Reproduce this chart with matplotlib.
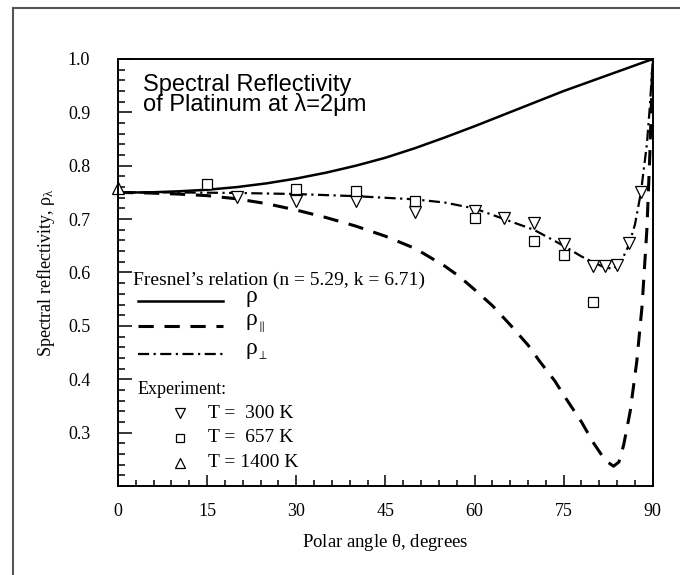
"""
Spectral reflectivity of platinum at 2 um: Fresnel curves and experiment
"""

import matplotlib

matplotlib.use("Agg")
import matplotlib.pyplot as plt  # noqa:E402
from matplotlib.lines import Line2D  # noqa:E402

# Fresnel's relation curves
theta_rho = [0, 5, 10, 15, 20, 25, 30, 35, 40, 45, 50, 55, 60, 65, 70, 75, 80, 85, 88, 90]
rho = [0.750, 0.750, 0.752, 0.755, 0.760, 0.767, 0.776, 0.787, 0.800, 0.815,
       0.833, 0.853, 0.874, 0.896, 0.918, 0.940, 0.960, 0.980, 0.992, 1.000]

theta_par = [0, 5, 10, 15, 20, 25, 30, 35, 40, 45, 50, 55, 57.5, 60, 63, 66, 69, 71,
             73.5, 75.5, 78, 80, 82, 83.4, 84.3, 85.1, 86.2, 87.3, 88.2, 89, 89.5, 90]
rho_par = [0.750, 0.749, 0.747, 0.744, 0.738, 0.729, 0.717, 0.703, 0.687, 0.668,
           0.645, 0.612, 0.592, 0.568, 0.538, 0.502, 0.464, 0.433, 0.397, 0.362,
           0.320, 0.281, 0.248, 0.237, 0.245, 0.277, 0.340, 0.433, 0.538, 0.680,
           0.820, 1.000]

theta_perp = [0, 10, 20, 30, 40, 45, 50, 55, 60, 65, 70, 75, 78, 80, 82, 83.5,
              85, 86, 87, 88, 89, 89.5, 90]
rho_perp = [0.750, 0.750, 0.749, 0.747, 0.743, 0.740, 0.737, 0.731, 0.720, 0.700,
            0.680, 0.650, 0.630, 0.619, 0.609, 0.607, 0.628, 0.652, 0.690, 0.750,
            0.840, 0.910, 1.000]

# experiment
theta_300 = [20, 30, 40, 50, 60, 65, 70, 75, 80, 82, 84, 86, 88]
rho_300 = [0.741, 0.734, 0.734, 0.713, 0.715, 0.703, 0.693, 0.653, 0.613, 0.613,
           0.614, 0.655, 0.750]
theta_657 = [15, 30, 40, 50, 60, 70, 75, 80]
rho_657 = [0.765, 0.757, 0.752, 0.734, 0.703, 0.659, 0.632, 0.545]
theta_1400 = [0]
rho_1400 = [0.759]

SERIF = "Liberation Serif"
SANS = "Liberation Sans"
FS = 13


def main():
    plt.rcParams["font.family"] = [SERIF, "DejaVu Serif"]
    plt.rcParams["mathtext.fontset"] = "custom"
    plt.rcParams["mathtext.rm"] = SERIF
    plt.rcParams["mathtext.it"] = SERIF  # upright greek like the original

    fig = plt.figure(figsize=(6.8, 5.75), dpi=100)
    ax = fig.add_axes([0.1735, 0.1548, 0.7865, 0.7426])

    ax.plot(theta_rho, rho, color="black", lw=1.8, solid_capstyle="butt")
    ax.plot(theta_par, rho_par, color="black", lw=2.2, dashes=(5, 3.5))
    ax.plot(theta_perp, rho_perp, color="black", lw=1.6, dashes=(5, 2, 1, 2))

    mk = dict(ls="none", mfc="white", mec="black", mew=0.9)
    ax.plot(theta_300, rho_300, marker="v", ms=8.5, **mk)
    ax.plot(theta_657, rho_657, marker="s", ms=7, **mk)
    ax.plot(theta_1400, rho_1400, marker="^", ms=8.5, clip_on=False, **mk)

    ax.set_xlim(0, 90)
    ax.set_ylim(0.2, 1.0)
    ax.set_xticks(range(0, 91, 15))
    ax.set_xticks(range(0, 91, 3), minor=True)
    ax.set_yticks([0.3, 0.4, 0.5, 0.6, 0.7, 0.8, 0.9, 1.0])
    ax.set_yticks([0.2 + 0.02 * i for i in range(41)], minor=True)
    ax.set_yticklabels(["0.3", "0.4", "0.5", "0.6", "0.7", "0.8", "0.9", "1.0"])
    ax.tick_params(which="both", direction="in", labelsize=FS, width=1.1)
    ax.tick_params(axis="y", which="major", length=10, pad=20)
    ax.tick_params(axis="y", which="minor", length=5)
    ax.tick_params(axis="x", which="major", length=8, pad=12)
    ax.tick_params(axis="x", which="minor", length=4)
    for s in ax.spines.values():
        s.set_linewidth(1.4)

    ax.set_xlabel(r"Polar angle $\theta$, degrees", fontsize=13.5, labelpad=9)
    ax.set_ylabel(r"Spectral reflectivity, $\rho_\lambda$", fontsize=13, labelpad=8)

    # title inside the axes
    ax.text(0.046, 0.915, "Spectral Reflectivity\nof Platinum at \u03bb=2\u03bcm",
            transform=ax.transAxes, family=SANS, fontsize=17, linespacing=0.82,
            va="center", ha="left")

    # hand-made legend
    tr = ax.transAxes
    ax.text(0.028, 0.482, "Fresnel\u2019s relation (n = 5.29, k = 6.71)",
            transform=tr, fontsize=14, va="center")
    leg_y = [0.433, 0.375, 0.31]
    styles = [dict(lw=1.8), dict(lw=2.2, dashes=(5, 3.5)), dict(lw=1.6, dashes=(5, 2, 1, 2))]
    labels = [r"$\rho$", r"$\rho_{_{\parallel}}$", r"$\rho_{_{\perp}}$"]
    for y, st, lab in zip(leg_y, styles, labels):
        ax.plot([0.037, 0.196], [y, y], transform=tr, color="black", **st)
        ax.text(0.238, y + 0.005, lab, transform=tr, fontsize=17, va="center")

    ax.text(0.037, 0.226, "Experiment:", transform=tr, fontsize=13, va="center")
    exp_y = [0.17, 0.113, 0.055]
    exp_m = [("v", 8), ("s", 7), ("^", 8)]
    exp_lab = ["T =  300 K", "T =  657 K", "T = 1400 K"]
    for y, (m, ms), lab in zip(exp_y, exp_m, exp_lab):
        ax.plot([0.116], [y], transform=tr, marker=m, ms=ms - 1, **mk)
        ax.text(0.168, y, lab, transform=tr, fontsize=14, va="center")

    # scanned page frame
    frame = "#555555"
    fig.add_artist(Line2D([13 / 680, 13 / 680], [0, 1 - 8 / 575], color=frame, lw=1.5))
    fig.add_artist(Line2D([13 / 680, 1], [1 - 8 / 575, 1 - 8 / 575], color=frame, lw=1.5))

    fig.savefig("out.png", dpi=100)
    plt.close(fig)


if __name__ == "__main__":
    main()
